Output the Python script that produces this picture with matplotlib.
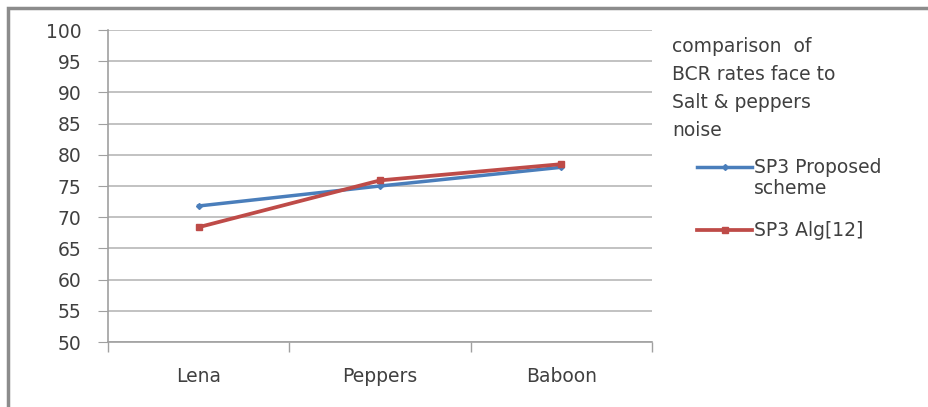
import matplotlib.pyplot as plt
from matplotlib.patches import Rectangle

# Данные
images = ["Lena", "Peppers", "Baboon"]
proposed = [71.8, 75.0, 78.0]
alg12 = [68.4, 75.9, 78.5]
yticks = list(range(50, 101, 5))

plt.rcParams['font.family'] = ['DejaVu Sans']
fs = 13.5
txt_color = '#404040'

fig = plt.figure(figsize=(9.29, 4.07), dpi=100)
ax = fig.add_axes([108 / 929, 1 - 342 / 407, 544 / 929, 312 / 407])

x = range(len(images))
ax.plot(x, proposed, color='#4A7EBB', linewidth=2.5, marker='D', markersize=3,
        label='SP3 Proposed')
ax.plot(x, alg12, color='#BE4B48', linewidth=2.7, marker='s', markersize=5,
        label='SP3 Alg[12]')

ax.set_xlim(-0.5, 2.5)
ax.set_ylim(50, 100)
ax.set_yticks(yticks)
ax.set_xticks(list(x))
ax.set_xticklabels(images)
ax.set_xticks([-0.5, 0.5, 1.5, 2.5], minor=True)
ax.tick_params(axis='x', which='major', length=0, pad=18, labelsize=fs, colors=txt_color)
ax.tick_params(axis='x', which='minor', length=7, color='#a0a0a0', width=1)
ax.tick_params(axis='y', length=7, color='#a0a0a0', pad=12, labelsize=fs, labelcolor=txt_color)

ax.grid(True, axis='y', color='#b8b8b8', linewidth=1.2)
ax.set_axisbelow(True)
for side in ['top', 'right']:
    ax.spines[side].set_visible(False)
for side in ['left', 'bottom']:
    ax.spines[side].set_color('#a0a0a0')
    ax.spines[side].set_linewidth(1.2)

# Заголовок легенды
fig.text(672 / 929, 1 - 37 / 407,
         "comparison  of\nBCR rates face to\nSalt & peppers\nnoise",
         ha='left', va='top', fontsize=fs, color=txt_color, linespacing=1.6)

leg = fig.legend(loc='upper left', bbox_to_anchor=(688 / 929, 1 - 149 / 407),
                 frameon=False, fontsize=fs, handlelength=2.9, handletextpad=0.1,
                 labelspacing=2.35, borderpad=0)
for t in leg.get_texts():
    t.set_color(txt_color)
fig.text(754 / 929, 1 - 189 / 407, "scheme", ha='left', va='center',
         fontsize=fs, color=txt_color)

# Рамка
fig.patches.append(Rectangle((8 / 929, -0.05), 1.0, 1 - 8 / 407 + 0.05,
                             transform=fig.transFigure, fill=False,
                             edgecolor='#8c8c8c', linewidth=2.5))

fig.savefig('out.png', dpi=100)
